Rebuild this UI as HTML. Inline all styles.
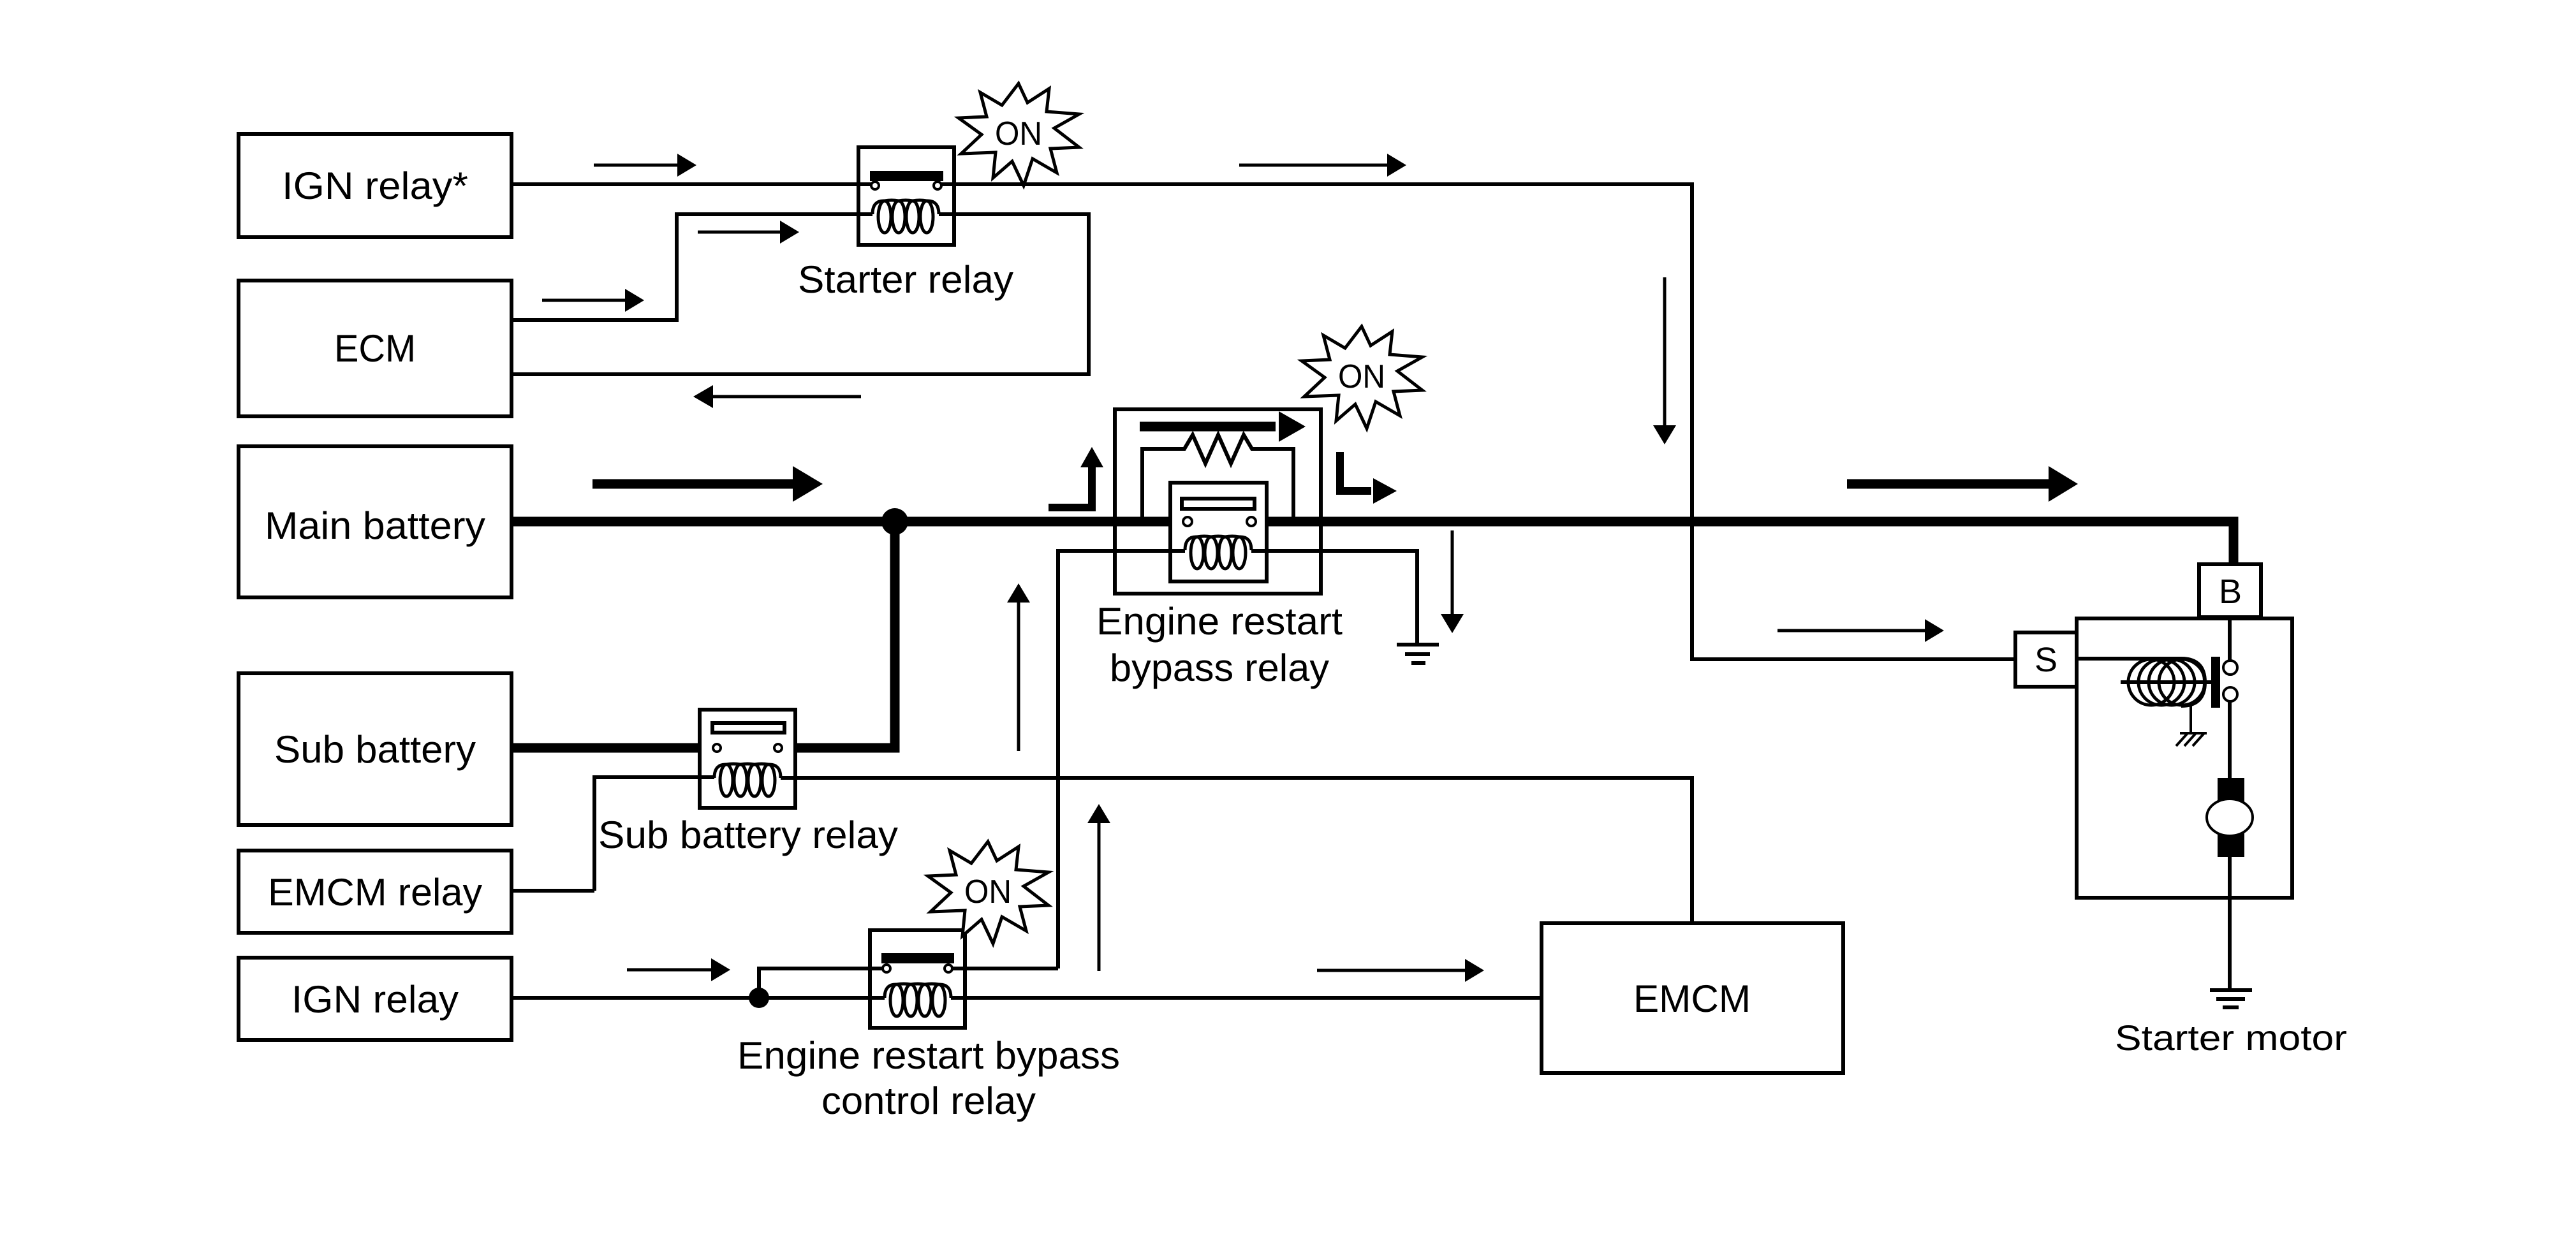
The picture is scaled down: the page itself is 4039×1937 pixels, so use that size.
<!DOCTYPE html>
<html><head><meta charset="utf-8"><style>
html,body{margin:0;padding:0;background:#fff;}
svg{display:block;}
text{font-family:"Liberation Sans",sans-serif;fill:#000;}
</style></head><body>
<svg width="4039" height="1937" viewBox="0 0 4039 1937" xmlns="http://www.w3.org/2000/svg">
<defs>
<g id="coil">
<ellipse cx="-33" cy="2" rx="10" ry="25" fill="none" stroke="#000" stroke-width="5"/>
<ellipse cx="-11" cy="2" rx="10" ry="25" fill="none" stroke="#000" stroke-width="5"/>
<ellipse cx="11" cy="2" rx="10" ry="25" fill="none" stroke="#000" stroke-width="5"/>
<ellipse cx="33" cy="2" rx="10" ry="25" fill="none" stroke="#000" stroke-width="5"/>
<path d="M-52 -2 Q-52 -24 -33 -23 Q-22 -25 -11 -23 Q0 -25 11 -23 Q22 -25 33 -23 Q52 -24 52 -2" fill="none" stroke="#000" stroke-width="5"/>
</g>
<g id="star">
<polygon points="0,-78 14,-48 48,-70 44,-34 95,-30 56,-8 95,22 50,24 60,62 22,40 8,82 -10,44 -40,70 -36,30 -90,32 -58,2 -94,-24 -50,-26 -60,-64 -26,-44" fill="#fff" stroke="#000" stroke-width="5" stroke-linejoin="miter"/>
<text x="0" y="18" font-size="52" text-anchor="middle" textLength="74" lengthAdjust="spacingAndGlyphs">ON</text>
</g>
</defs>
<g fill="none" stroke="#000" stroke-width="6">
<rect x="374" y="210" width="428" height="162"/>
<rect x="374" y="440" width="428" height="213"/>
<rect x="374" y="700" width="428" height="237"/>
<rect x="374" y="1056" width="428" height="238"/>
<rect x="374" y="1334" width="428" height="129"/>
<rect x="374" y="1502" width="428" height="129"/>
<rect x="2417" y="1448" width="473" height="235"/>
<rect x="1346" y="231" width="150" height="153"/>
<path d="M802 289 H1366 M1476 289 H2653 V1034 H3160"/>
<path d="M802 502 H1061 V336 H1368 M1472 336 H1707 V587 H802"/>
<path d="M802 818 H1835 M1986 818 H3502 V885" stroke-width="15"/>
<path d="M1403 818 V1173 H1247 M802 1173 H1097" stroke-width="15"/>
<rect x="1748" y="642" width="323" height="289"/>
<rect x="1835" y="757" width="151" height="155"/>
<rect x="1853" y="782" width="114" height="16"/>
<path d="M1791 818 V704 H1857 L1870 682 L1890 727 L1910 682 L1930 727 L1950 682 L1963 704 H2028 V818"/>
<path d="M1659 1519 V864 H1858 M1962 864 H2222 V1011"/>
<path d="M2190 1011 H2256 M2203 1026 H2242 M2213 1040 H2235"/>
<rect x="1097" y="1113" width="150" height="154"/>
<rect x="1117" y="1134" width="113" height="15"/>
<path d="M932 1397 H802 M932 1397 V1219 H1120 M1224 1220 H2653 V1448"/>
<rect x="1364" y="1459" width="149" height="153"/>
<path d="M802 1565 H1387 M1491 1565 H2417 M1190 1565 V1519 H1384 M1493 1519 H1659"/>
<rect x="3448" y="885" width="97" height="83"/>
<rect x="3256" y="970" width="338" height="438"/>
<rect x="3160" y="992" width="96" height="85"/>
<path d="M3256 1033 H3420 Q3457 1033 3457 1070 Q3457 1107 3420 1107 M3325 1070 H3467"/>
<path d="M3496 968 V1037 M3496 1099 V1222 M3496 1342 V1553 M3465 1553 H3531 M3475 1567 H3520 M3485 1580 H3510"/>
<path d="M3435 1105 V1148 M3418 1150 H3460 M3412 1170 L3430 1150 M3425 1170 L3443 1150 M3438 1170 L3456 1150" stroke-width="4"/>
<path d="M931 259 H1062 M850 471 H982 M1094 364 H1225 M1118 622 H1350 M1943 259 H2177 M2610 435 V669 M2787 989 H3020 M1597 1178 V943 M2277 832 V965 M983 1521 H1117 M1723 1523 V1289 M2065 1522 H2299" stroke-width="5"/>
<path d="M929 759 H1250 M1787 669 H2000 M2896 759 H3220" stroke-width="15"/>
<path d="M1644 796 H1712 V730 M2101 709 V770 H2150" stroke-width="12"/>
</g>
<use href="#coil" x="1420" y="338"/>
<use href="#coil" x="1910" y="865"/>
<use href="#coil" x="1172" y="1222"/>
<use href="#coil" x="1439" y="1567"/>
<g fill="none" stroke="#000" stroke-width="5">
<circle cx="3373" cy="1070" r="36"/><circle cx="3389" cy="1070" r="36"/><circle cx="3405" cy="1070" r="36"/><circle cx="3421" cy="1070" r="36"/>
</g>
<g fill="#000">
<rect x="1364" y="268" width="115" height="16"/>
<rect x="1382" y="1495" width="114" height="16"/>
<rect x="3467" y="1030" width="14" height="80"/>
<rect x="3477" y="1220" width="42" height="124"/>
<circle cx="1403" cy="818" r="21"/>
<circle cx="1190" cy="1565" r="16"/>
<polygon points="1092,259 1062,241 1062,277"/>
<polygon points="1010,471 980,453 980,489"/>
<polygon points="1253,364 1223,346 1223,382"/>
<polygon points="1087,622 1118,604 1118,640"/>
<polygon points="2205,259 2175,241 2175,277"/>
<polygon points="2610,697 2592,667 2628,667"/>
<polygon points="3048,989 3018,971 3018,1007"/>
<polygon points="1597,915 1579,945 1615,945"/>
<polygon points="2277,993 2259,963 2295,963"/>
<polygon points="1145,1521 1115,1503 1115,1539"/>
<polygon points="1723,1261 1705,1291 1741,1291"/>
<polygon points="2327,1522 2297,1504 2297,1540"/>
<polygon points="1290,759 1243,731 1243,787"/>
<polygon points="2047,669 2005,645 2005,693"/>
<polygon points="3258,759 3212,731 3212,787"/>
<polygon points="1712,701 1694,733 1730,733"/>
<polygon points="2190,770 2153,750 2153,790"/>
</g>
<g fill="#fff" stroke="#000" stroke-width="4">
<circle cx="1372" cy="291" r="6"/><circle cx="1470" cy="291" r="6"/>
<circle cx="1862" cy="818" r="7"/><circle cx="1962" cy="818" r="7"/>
<circle cx="1124" cy="1173" r="6"/><circle cx="1220" cy="1173" r="6"/>
<circle cx="1390" cy="1519" r="6"/><circle cx="1487" cy="1519" r="6"/>
<circle cx="3497" cy="1047" r="11"/><circle cx="3497" cy="1089" r="11"/>
<ellipse cx="3496" cy="1282" rx="36" ry="29"/>
</g>
<use href="#star" x="1597" y="209"/>
<use href="#star" x="2135" y="590"/>
<use href="#star" x="1549" y="1398"/>
<g font-size="60" text-anchor="middle">
<text x="588" y="312" textLength="292" lengthAdjust="spacingAndGlyphs">IGN relay*</text>
<text x="588" y="567" textLength="128" lengthAdjust="spacingAndGlyphs">ECM</text>
<text x="588" y="845" textLength="346" lengthAdjust="spacingAndGlyphs">Main battery</text>
<text x="588" y="1196" textLength="316" lengthAdjust="spacingAndGlyphs">Sub battery</text>
<text x="588" y="1420" textLength="336" lengthAdjust="spacingAndGlyphs">EMCM relay</text>
<text x="588" y="1588" textLength="262" lengthAdjust="spacingAndGlyphs">IGN relay</text>
<text x="2653" y="1587" textLength="184" lengthAdjust="spacingAndGlyphs">EMCM</text>
<text x="1420" y="459" textLength="338" lengthAdjust="spacingAndGlyphs">Starter relay</text>
<text x="1912" y="995" textLength="386" lengthAdjust="spacingAndGlyphs">Engine restart</text>
<text x="1912" y="1068" textLength="344" lengthAdjust="spacingAndGlyphs">bypass relay</text>
<text x="1173" y="1330" textLength="470" lengthAdjust="spacingAndGlyphs">Sub battery relay</text>
<text x="1456" y="1676" textLength="600" lengthAdjust="spacingAndGlyphs">Engine restart bypass</text>
<text x="1456" y="1747" textLength="336" lengthAdjust="spacingAndGlyphs">control relay</text>
<text x="3498" y="1647" font-size="56" textLength="364" lengthAdjust="spacingAndGlyphs">Starter motor</text>
<text x="3497" y="946" font-size="54">B</text>
<text x="3208" y="1053" font-size="54">S</text>
</g>
</svg>
</body></html>
